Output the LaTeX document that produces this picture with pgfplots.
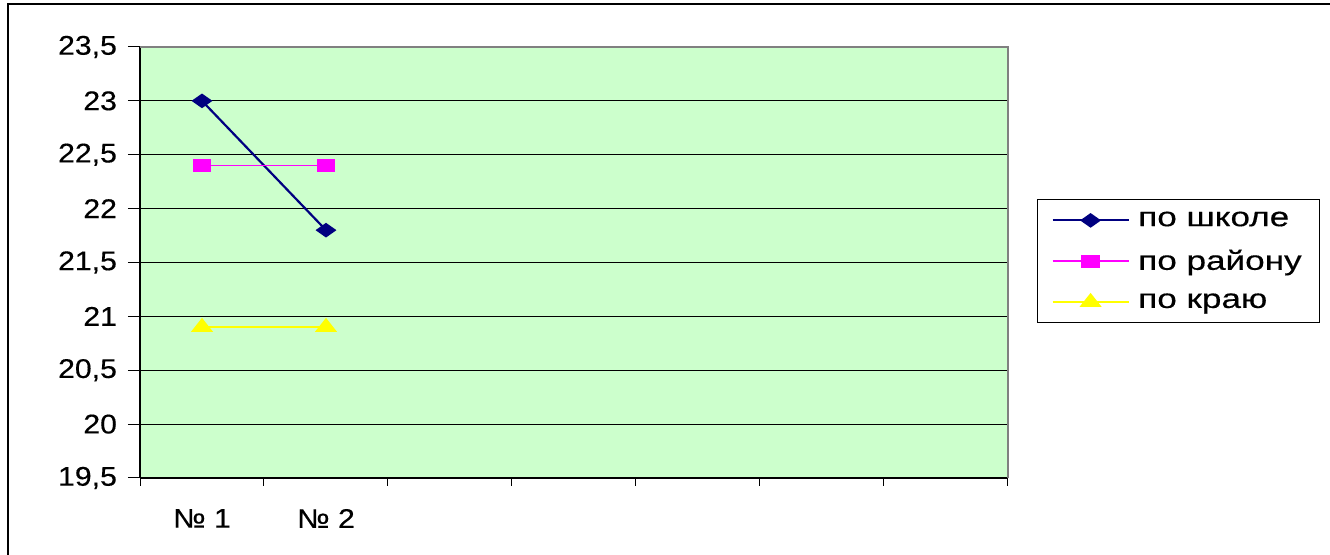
\documentclass[border=0pt]{standalone}
\usepackage{fontspec}
\setmainfont{Liberation Sans}[FakeStretch=1.3, FakeBold=0.4]
\newfontfamily\tickfont{Liberation Sans}[FakeStretch=1.12, FakeBold=0.4]
\usepackage{pgfplots}
\pgfplotsset{compat=1.18}
\definecolor{bg}{HTML}{CCFFCC}
\definecolor{navyc}{HTML}{000080}
\definecolor{magc}{HTML}{FF00FF}
\definecolor{yelc}{HTML}{FFFF00}
\definecolor{frameg}{HTML}{808080}
\begin{document}
\begin{tikzpicture}
\path[use as bounding box] (0pt,0pt) rectangle (665pt,277.5pt);
\draw[line width=1pt] (4pt,0pt) -- (4pt,275.5pt) -- (665pt,275.5pt);
\begin{axis}[
  at={(70pt,38.5pt)}, anchor=south west,
  scale only axis, width=434pt, height=215.5pt,
  xmin=0.5, xmax=7.5, ymin=19.5, ymax=23.5,
  ytick={19.5,20,20.5,21,21.5,22,22.5,23,23.5},
  xtick={1,2}, xticklabels={№ 1,№ 2},
  minor xtick={0.5,1.5,2.5,3.5,4.5,5.5,6.5,7.5},
  major x tick style={draw=none},
  minor x tick style={black, line width=0.5pt},
  y tick style={black, line width=0.5pt},
  tick align=outside,
  minor tick length=4pt,
  major tick length=6pt,
  axis lines*=left,
  axis line style={black, line width=0.6pt},
  axis background/.style={fill=bg},
  ymajorgrids, grid style={black, line width=0.5pt},
  /pgf/number format/.cd, use comma, 1000 sep={}, assume math mode=true,
  /pgfplots/.cd,
  ticklabel style={font=\tickfont\fontsize{13.5}{16}\selectfont},
  yticklabel style={xshift=-2pt},
  xticklabel style={yshift=-6pt},
  legend style={at={(1.0334,0.647)}, anchor=north west, draw=black, line width=0.5pt,
    fill=white, inner xsep=7pt, inner ysep=4pt,
    font=\fontsize{13.5}{16}\selectfont, row sep=6.3pt, cells={anchor=west},
    /tikz/every odd column/.append style={column sep=2.3pt}},
  legend image code/.code={\draw[mark repeat=2,mark phase=2] plot coordinates {(0pt,0pt) (19pt,0pt) (38pt,0pt)};},
  after end axis/.code={\draw[frameg, line width=1pt] (rel axis cs:0,1) -- (rel axis cs:1,1) -- (rel axis cs:1,0);},
]
\addplot[color=navyc, line width=1.1pt, mark=diamond*, mark size=3pt, mark options={xscale=1.9, solid, fill=navyc}] coordinates {(1,23) (2,21.8)};
\addlegendentry{по школе}
\addplot[color=magc, line width=0.8pt, mark=square*, mark size=2.75pt, mark options={xscale=1.55, solid, fill=magc}] coordinates {(1,22.4) (2,22.4)};
\addlegendentry{по району}
\addplot[color=yelc, line width=0.8pt, mark=triangle*, mark size=4pt, mark options={xscale=1.37, solid, fill=yelc}] coordinates {(1,20.9) (2,20.9)};
\addlegendentry{по краю}
\end{axis}
\end{tikzpicture}
\end{document}
